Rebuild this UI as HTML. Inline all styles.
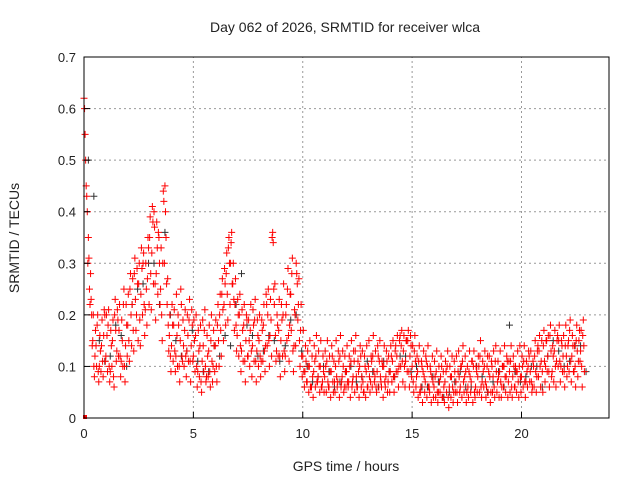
<!DOCTYPE html>
<html><head><meta charset="utf-8"><style>
html,body{margin:0;padding:0;background:#fff;}
svg{display:block;font-family:"Liberation Sans",sans-serif;}
</style></head><body>
<svg id="chart" width="640" height="480" viewBox="0 0 640 480" xmlns="http://www.w3.org/2000/svg">
<rect width="640" height="480" fill="#fff"/>
<text x="345" y="32" font-size="14" text-anchor="middle" fill="#222">Day 062 of 2026, SRMTID for receiver wlca</text>
<text x="346" y="471" font-size="14" text-anchor="middle" fill="#222">GPS time / hours</text>
<text transform="translate(19,238) rotate(-90)" font-size="14" text-anchor="middle" fill="#222">SRMTID / TECUs</text>
<g id="grid"></g><g id="marks"></g><g id="axes"></g>
</svg>
<script>
const xTicks=[0,5,10,15,20];
const yTicks=[0,0.1,0.2,0.3,0.4,0.5,0.6,0.7];
const yTickLabels=["0","0.1","0.2","0.3","0.4","0.5","0.6","0.7"];
const redStep=0.1;
const redA=[0.62,0.45,0.35,0.28,0.15,0.12,0.18,0.10,0.14,0.16,
0.12,0.18,0.09,0.15,0.20,0.13,0.17,0.11,0.22,0.14,
0.18,0.25,0.22,0.28,0.20,0.26,0.24,0.30,0.21,0.27,
0.35,0.32,0.40,0.28,0.36,0.25,0.30,0.45,0.22,0.16,
0.14,0.18,0.12,0.20,0.15,0.11,0.17,0.13,0.19,0.14,
0.12,0.16,0.09,0.14,0.11,0.17,0.08,0.13,0.15,0.10,
0.14,0.18,0.20,0.24,0.22,0.28,0.33,0.30,0.26,0.22,
0.16,0.20,0.13,0.18,0.15,0.12,0.17,0.14,0.19,0.13,
0.15,0.11,0.18,0.14,0.20,0.16,0.35,0.22,0.13,0.17,
0.15,0.20,0.12,0.25,0.18,0.28,0.14,0.30,0.22,0.17,
0.12,0.09,0.07,0.10,0.06,0.09,0.12,0.08,0.10,0.07,
0.08,0.11,0.06,0.09,0.05,0.10,0.07,0.12,0.08,0.06,
0.09,0.07,0.11,0.08,0.13,0.06,0.10,0.08,0.05,0.09,
0.10,0.07,0.12,0.08,0.09,0.11,0.06,0.10,0.08,0.07,
0.09,0.11,0.08,0.12,0.10,0.14,0.13,0.11,0.15,0.12,
0.10,0.13,0.08,0.11,0.06,0.09,0.07,0.10,0.05,0.08,
0.06,0.09,0.05,0.08,0.04,0.07,0.10,0.06,0.08,0.05,
0.07,0.09,0.06,0.11,0.08,0.05,0.09,0.07,0.10,0.06,
0.08,0.12,0.07,0.10,0.06,0.09,0.05,0.08,0.11,0.07,
0.09,0.06,0.10,0.08,0.07,0.11,0.08,0.06,0.09,0.10,
0.08,0.11,0.07,0.10,0.09,0.06,0.12,0.08,0.13,0.11,
0.14,0.10,0.12,0.16,0.09,0.13,0.11,0.15,0.10,0.12,
0.14,0.10,0.17,0.12,0.09,0.15,0.11,0.13,0.16];
const redB=[0.55,0.40,0.25,0.20,0.10,0.14,0.09,0.13,0.11,0.20,
0.16,0.10,0.14,0.08,0.17,0.19,0.12,0.15,0.10,0.18,
0.15,0.20,0.17,0.23,0.26,0.19,0.29,0.22,0.25,0.33,
0.28,0.38,0.26,0.33,0.30,0.20,0.42,0.35,0.18,0.12,
0.18,0.13,0.16,0.10,0.22,0.14,0.12,0.16,0.11,0.18,
0.15,0.10,0.13,0.07,0.14,0.10,0.12,0.09,0.11,0.14,
0.10,0.15,0.17,0.21,0.26,0.24,0.30,0.36,0.23,0.18,
0.20,0.14,0.17,0.11,0.19,0.15,0.13,0.18,0.11,0.16,
0.12,0.17,0.13,0.22,0.15,0.19,0.34,0.16,0.18,0.12,
0.19,0.13,0.22,0.16,0.24,0.13,0.20,0.26,0.15,0.12,
0.09,0.11,0.10,0.06,0.08,0.11,0.07,0.10,0.06,0.09,
0.10,0.07,0.09,0.12,0.07,0.08,0.11,0.06,0.10,0.09,
0.07,0.10,0.06,0.11,0.08,0.09,0.12,0.07,0.10,0.06,
0.08,0.11,0.09,0.06,0.12,0.08,0.10,0.07,0.11,0.09,
0.12,0.08,0.14,0.09,0.16,0.11,0.10,0.15,0.09,0.14,
0.07,0.11,0.09,0.05,0.10,0.08,0.11,0.06,0.09,0.07,
0.08,0.05,0.07,0.10,0.06,0.09,0.04,0.08,0.06,0.09,
0.05,0.08,0.10,0.07,0.09,0.06,0.08,0.11,0.05,0.09,
0.10,0.06,0.09,0.07,0.12,0.08,0.10,0.06,0.09,0.08,
0.07,0.10,0.08,0.11,0.09,0.06,0.10,0.09,0.07,0.08,
0.10,0.07,0.09,0.12,0.07,0.10,0.09,0.14,0.10,0.09,
0.11,0.15,0.09,0.13,0.12,0.10,0.16,0.11,0.14,0.09,
0.12,0.15,0.11,0.14,0.10,0.13,0.17,0.10,0.14];
const redC=[0.60,0.43,0.31,0.23,0.20,0.17,0.20,0.16,0.19,0.21,
0.20,0.21,0.17,0.19,0.23,0.21,0.22,0.19,0.25,0.22,
0.24,0.28,0.27,0.31,0.29,0.30,0.33,0.32,0.30,0.35,
0.39,0.41,0.37,0.38,0.35,0.33,0.44,0.40,0.27,0.20,
0.22,0.21,0.24,0.18,0.25,0.19,0.21,0.20,0.23,0.21,
0.19,0.20,0.17,0.18,0.19,0.21,0.16,0.18,0.20,0.17,
0.19,0.22,0.24,0.27,0.29,0.32,0.35,0.34,0.30,0.27,
0.23,0.24,0.21,0.22,0.20,0.19,0.22,0.21,0.23,0.19,
0.20,0.19,0.22,0.24,0.25,0.23,0.36,0.26,0.20,0.23,
0.22,0.26,0.20,0.29,0.24,0.31,0.21,0.28,0.27,0.22,
0.17,0.14,0.13,0.15,0.12,0.14,0.16,0.13,0.15,0.12,
0.13,0.15,0.12,0.14,0.11,0.15,0.13,0.16,0.13,0.12,
0.14,0.12,0.15,0.13,0.16,0.11,0.14,0.13,0.12,0.14,
0.15,0.12,0.16,0.13,0.14,0.15,0.11,0.14,0.13,0.12,
0.14,0.15,0.13,0.16,0.15,0.17,0.16,0.15,0.17,0.16,
0.14,0.16,0.12,0.14,0.11,0.13,0.12,0.14,0.10,0.12,
0.11,0.13,0.10,0.12,0.09,0.11,0.13,0.10,0.12,0.11,
0.12,0.13,0.10,0.14,0.12,0.10,0.13,0.11,0.13,0.10,
0.12,0.15,0.11,0.13,0.10,0.12,0.11,0.13,0.14,0.11,
0.13,0.10,0.14,0.12,0.11,0.14,0.12,0.10,0.13,0.14,
0.12,0.14,0.11,0.13,0.13,0.11,0.15,0.13,0.16,0.15,
0.17,0.15,0.16,0.18,0.14,0.17,0.15,0.18,0.15,0.16,
0.18,0.14,0.19,0.16,0.14,0.18,0.15,0.17,0.19];
const redD=[0.50,0.30,0.22,0.14,0.08,0.10,0.07,0.09,0.08,0.11,
0.09,0.07,0.10,0.06,0.11,0.12,0.08,0.10,0.07,0.12,
0.11,0.14,0.13,0.17,0.15,0.14,0.20,0.16,0.18,0.22,
0.21,0.26,0.19,0.24,0.22,0.15,0.30,0.26,0.13,0.09,
0.11,0.09,0.10,0.07,0.12,0.10,0.08,0.11,0.07,0.11,
0.09,0.06,0.08,0.05,0.09,0.07,0.08,0.06,0.07,0.09,
0.07,0.10,0.12,0.15,0.18,0.19,0.22,0.26,0.17,0.13,
0.12,0.09,0.11,0.07,0.12,0.10,0.08,0.11,0.07,0.10,
0.08,0.11,0.09,0.14,0.10,0.12,0.25,0.11,0.12,0.08,
0.12,0.09,0.15,0.11,0.17,0.09,0.14,0.19,0.10,0.08,
0.06,0.07,0.05,0.06,0.04,0.06,0.07,0.05,0.06,0.05,
0.05,0.06,0.04,0.07,0.05,0.06,0.04,0.07,0.05,0.06,
0.06,0.04,0.07,0.05,0.06,0.04,0.06,0.05,0.04,0.06,
0.05,0.06,0.07,0.05,0.06,0.07,0.04,0.06,0.05,0.05,
0.07,0.05,0.09,0.06,0.10,0.07,0.06,0.09,0.06,0.08,
0.05,0.06,0.04,0.05,0.03,0.05,0.04,0.06,0.03,0.04,
0.04,0.03,0.05,0.04,0.03,0.05,0.02,0.04,0.03,0.05,
0.03,0.05,0.04,0.05,0.03,0.04,0.05,0.03,0.04,0.05,
0.05,0.04,0.06,0.04,0.05,0.03,0.05,0.04,0.05,0.04,
0.04,0.06,0.05,0.04,0.05,0.04,0.06,0.05,0.04,0.05,
0.06,0.04,0.06,0.07,0.05,0.06,0.05,0.08,0.06,0.05,
0.07,0.09,0.06,0.08,0.07,0.06,0.10,0.07,0.09,0.06,
0.08,0.09,0.07,0.09,0.06,0.08,0.11,0.06,0.09];
const blackStep=0.5;
const blackVals=[0.5,0.15,0.12,0.16,0.22,0.26,0.30,0.36,0.15,0.13,0.11,0.09,0.12,0.14,0.28,0.16,0.13,0.15,0.14,0.20,0.10,0.08,0.09,0.07,0.10,0.08,0.09,0.11,0.08,0.12,0.10,0.06,0.07,0.05,0.09,0.06,0.08,0.07,0.06,0.09,0.08,0.10,0.12,0.13,0.11,0.14];
const blackVals2=[0.43,0.11,0.18,0.10,0.25,0.30,0.22,0.20,0.12,0.17,0.09,0.14,0.16,0.22,0.18,0.12,0.16,0.11,0.19,0.13,0.07,0.10,0.06,0.09,0.07,0.11,0.06,0.09,0.12,0.09,0.06,0.08,0.04,0.07,0.06,0.10,0.05,0.09,0.18,0.07,0.10,0.06,0.15,0.10,0.14,0.09];

const X0=84,X1=609,Y0=418,Y1=57,XMAX=24,YMAX=0.7;
function xs(v){return X0+(X1-X0)*v/XMAX;}
function ys(v){return Y0-(Y0-Y1)*v/YMAX;}
const NS="http://www.w3.org/2000/svg";
function mk(tag,attrs,parent){const e=document.createElementNS(NS,tag);for(const k in attrs)e.setAttribute(k,attrs[k]);parent.appendChild(e);return e;}
const grid=document.getElementById('grid'),marks=document.getElementById('marks'),axes=document.getElementById('axes');
xTicks.forEach((t,i)=>{
  if(t>0){const g=mk('line',{x1:xs(t),x2:xs(t),y1:Y0,y2:Y1,stroke:'#999','stroke-dasharray':'2,3'},grid);
  
  }
  const tk=mk('line',{x1:xs(t),x2:xs(t),y1:Y0,y2:Y0-6,stroke:'#000'},axes);
  
  
  const tx=mk('text',{x:xs(t),y:Y0+20,'font-size':13,'text-anchor':'middle',fill:'#222'},axes);
  tx.textContent=String(t);
  
  
});
yTicks.forEach((t,i)=>{
  if(t>0&&t<YMAX){const g=mk('line',{x1:X0,x2:X1,y1:ys(t),y2:ys(t),stroke:'#999','stroke-dasharray':'2,3'},grid);
  
  }
  const tk=mk('line',{x1:X0,x2:X0+6,y1:ys(t),y2:ys(t),stroke:'#000'},axes);
  
  
  const tx=mk('text',{x:X0-8,y:ys(t)+5,'font-size':13,'text-anchor':'end',fill:'#222'},axes);
  tx.textContent=yTickLabels[i];
  
  
});
const fr=mk('rect',{x:X0,y:Y1,width:X1-X0,height:Y0-Y1,fill:'none',stroke:'#000'},axes);


function plus(x,y,color,name){
  const p=mk('path',{d:`M${x-3.5},${y}h7M${x},${y-3.5}v7`,stroke:color,'stroke-width':1,fill:'none'},marks);
  
  
}
blackVals.forEach((v,i)=>plus(xs(i*blackStep+0.2),ys(v),'#333','black-point'));
blackVals2.forEach((v,i)=>plus(xs(i*blackStep+0.45),ys(v),'#333','black-point'));
redA.forEach((v,i)=>plus(xs(i*redStep),ys(v),'#f00','red-point'));
redB.forEach((v,i)=>plus(xs(i*redStep+0.05),ys(v),'#f00','red-point'));
redC.forEach((v,i)=>plus(xs(i*redStep+0.025),ys(v),'#f00','red-point'));
redD.forEach((v,i)=>plus(xs(i*redStep+0.075),ys(v),'#f00','red-point'));
const sq=mk('rect',{x:xs(0)-1,y:ys(0)-3,width:4,height:4,fill:'#f00'},marks);


</script>
</body></html>
